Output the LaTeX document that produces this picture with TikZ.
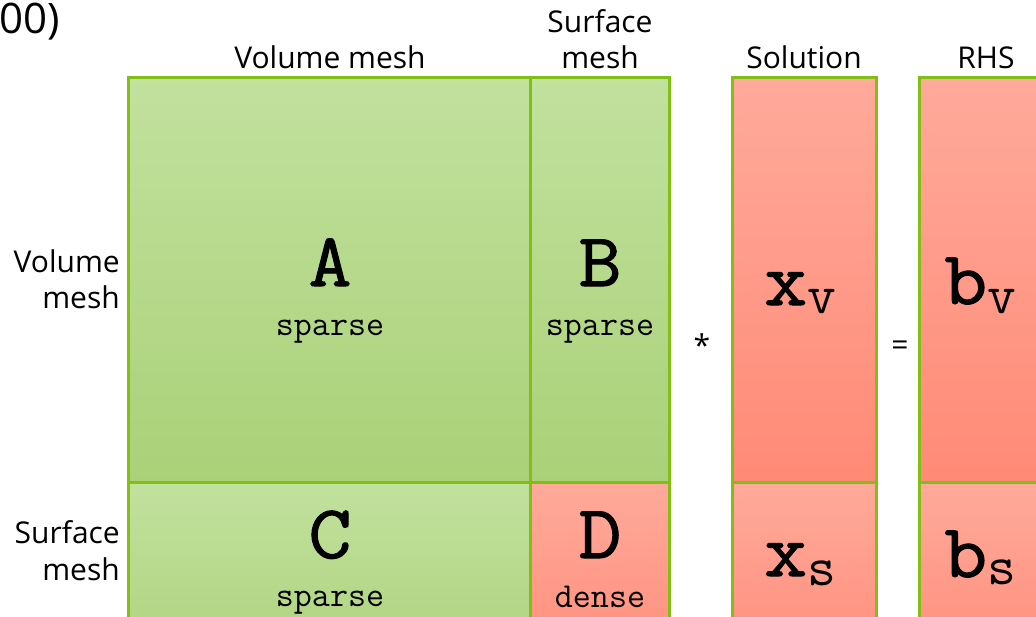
\documentclass[tikz,border=0pt]{standalone}
\usepackage{fontspec}
\setmainfont{Open Sans}
\setmonofont{Latin Modern Mono}
\newfontfamily\boldmono{Latin Modern Mono}[FakeBold=1.3,FakeStretch=1.1]
\definecolor{gline}{RGB}{130,190,20}
\definecolor{gtop}{RGB}{193,225,158}
\definecolor{gbot}{RGB}{170,209,120}
\definecolor{rtop}{RGB}{255,170,155}
\definecolor{rbot}{RGB}{255,138,118}
\begin{document}
\begin{tikzpicture}[x=1pt,y=-1pt,
  gcell/.style={draw=gline,line width=3pt,top color=gtop,bottom color=gbot},
  rcell/.style={draw=gline,line width=3pt,top color=rtop,bottom color=rbot},
  lbl/.style={font=\fontsize{30}{36}\selectfont,inner sep=0pt},
  bigl/.style={font=\boldmono\fontsize{76}{76}\selectfont,inner sep=0pt},
  kind/.style={font=\ttfamily\fontsize{35}{35}\selectfont,inner sep=0pt},
  subs/.style={font=\ttfamily\fontsize{56}{56}\selectfont,inner sep=0pt}]
\useasboundingbox (0,0) rectangle (1036,616);
\clip (0,0) rectangle (1036,616);
% cells
\path[gcell] (128,77) rectangle (530,482);
\path[gcell] (530,77) rectangle (669,482);
\path[gcell] (128,482) rectangle (530,690);
\path[rcell] (530,482) rectangle (669,690);
\path[rcell] (732,77) rectangle (876,482);
\path[rcell] (732,482) rectangle (876,690);
\path[rcell] (919,77) rectangle (1063,482);
\path[rcell] (919,482) rectangle (1063,690);
% top labels
\node[lbl,anchor=base east,font=\fontsize{42}{42}\selectfont] (t00) at (60,33) {00)};
\node[lbl,anchor=base] (tvol) at (330,68) {Volume mesh};
\node[lbl,anchor=base] (tsurf1) at (600,32) {Surface};
\node[lbl,anchor=base] (tsurf2) at (600,68) {mesh};
\node[lbl,anchor=base] (tsol) at (804,68) {Solution};
\node[lbl,anchor=base] (trhs) at (986,68) {RHS};
% side labels
\node[lbl,anchor=base east] (lvol1) at (120,272) {Volume};
\node[lbl,anchor=base east] (lvol2) at (120,308) {mesh};
\node[lbl,anchor=base east] (lsurf1) at (120,543) {Surface};
\node[lbl,anchor=base east] (lsurf2) at (120,580) {mesh};
% block letters
\node[bigl,anchor=base] (A) at (330,286) {A};
\node[kind,anchor=base] (As) at (330,335) {sparse};
\node[bigl,anchor=base] (B) at (600,286) {B};
\node[kind,anchor=base] (Bs) at (600,335) {sparse};
\node[bigl,anchor=base] (C) at (330,558) {C};
\node[kind,anchor=base] (Cs) at (330,606) {sparse};
\node[bigl,anchor=base] (D) at (600,558) {D};
\node[kind,anchor=base] (Ds) at (600,607) {dense};
% vectors
\node[bigl,anchor=base west] (xv) at (764,305) {x};
\node[subs,anchor=base west] (xvs) at (xv.base east) [yshift=-8pt] {v};
\node[bigl,anchor=base west] (xs) at (764,576) {x};
\node[subs,anchor=base west] (xss) at (xs.base east) [yshift=-9pt] {s};
\node[bigl,anchor=base west] (bv) at (944,304) {b};
\node[subs,anchor=base west] (bvs) at (bv.base east) [yshift=-9pt] {v};
\node[bigl,anchor=base west] (bs) at (944,577) {b};
\node[subs,anchor=base west] (bss) at (bs.base east) [yshift=-7pt] {s};
% operators
\node[lbl] (times) at (702,345) {*};
\node[lbl] (eq) at (900,348) {=};
\end{tikzpicture}
\end{document}
